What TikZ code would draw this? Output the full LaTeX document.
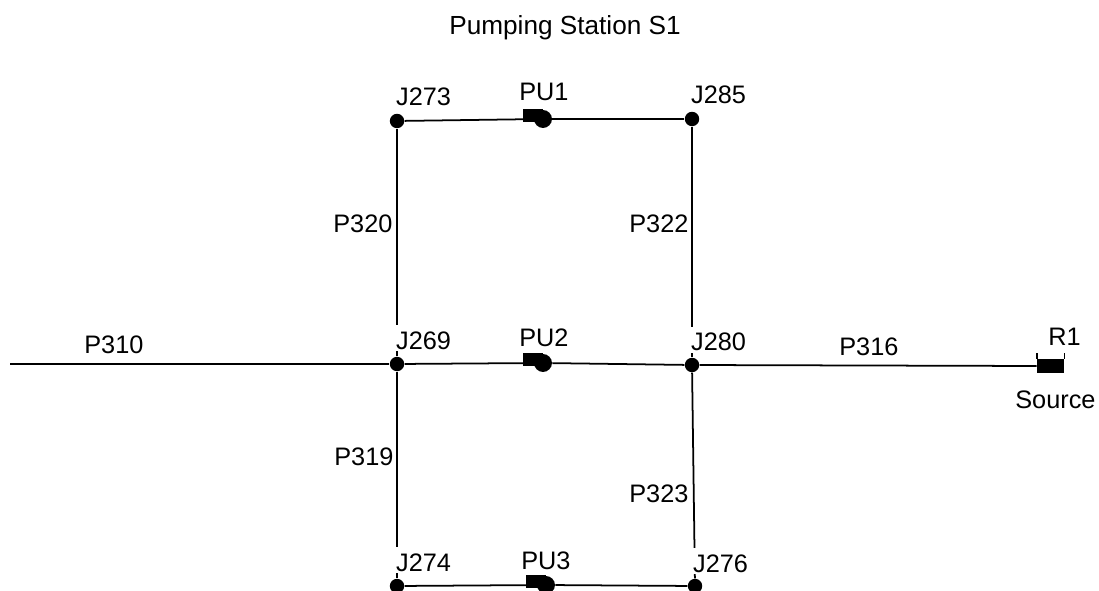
\documentclass[tikz,border=0pt]{standalone}
\usepackage{fontspec}
\setmainfont{Liberation Sans}
\tikzset{
  pipe/.style={line width=1pt},
  junc/.style={circle, fill=black, inner sep=0pt, minimum size=8.2pt},
  pumphead/.style={circle, fill=black, inner sep=0pt, minimum size=10.2pt},
  pumpbody/.style={fill=black, inner sep=0pt, minimum width=11.4pt, minimum height=7.4pt, anchor=east},
  tank/.style={fill=black, inner sep=0pt, minimum width=15.4pt, minimum height=8pt},
  lab/.style={font=\fontsize{14.4}{16}\selectfont, anchor=base west, inner sep=0pt},
  jlab/.style={lab, fill=white, inner sep=1pt, text height=12.5pt, text depth=0pt},
}
\begin{document}
\begin{tikzpicture}[x=0.02cm,y=-0.02cm]
\useasboundingbox (0,0) rectangle (1099,591);

% ===================== junctions and equipment ==============================
\node[junc] (J273) at (397,121) {};
\node[junc] (J285) at (692,119) {};
\node[junc] (J269) at (397,364) {};
\node[junc] (J280) at (692,365) {};
\node[junc] (J274) at (397,586) {};
\node[junc] (J276) at (695,586) {};
\node[pumphead] (PU1) at (543,119) {};
\node[pumphead] (PU2) at (543,363) {};
\node[pumphead] (PU3) at (546,585) {};
\node[pumpbody] at (543,115.5) {};
\node[pumpbody] at (543,359.5) {};
\node[pumpbody] at (546,581.5) {};
\node[tank] (R1) at (1050.5,366) {};
\coordinate (P310end) at (10,364);

% ===================== pipes ================================================
\draw[pipe] (P310end) -- (J269);
\draw[pipe] (J269) -- (PU2);
\draw[pipe] (PU2) -- (J280);
\draw[pipe] (J280) -- (R1.west);
\draw[pipe] (J269) -- (J273);
\draw[pipe] (J273) -- (PU1);
\draw[pipe] (PU1) -- (J285);
\draw[pipe] (J285) -- (J280);
\draw[pipe] (J269) -- (J274);
\draw[pipe] (J274) -- (PU3);
\draw[pipe] (PU3) -- (J276);
\draw[pipe] (J280) -- (J276);
\draw[pipe] (R1.north west) -- ++(0,-6);
\draw[pipe] (R1.north east) -- ++(0,-6);

% ===================== labels ===============================================
\node[lab, font=\fontsize{14.9}{16}\selectfont] (title) at (449,35) {Pumping Station S1};
\node[jlab] (lJ273) at (394,106) {J273};
\node[jlab] (lJ285) at (689,104) {J285};
\node[jlab] (lJ269) at (394,349) {J269};
\node[jlab] (lJ280) at (689,351) {J280};
\node[jlab] (lJ274) at (394,571) {J274};
\node[jlab] (lJ276) at (691,572) {J276};
\node[lab] (lPU1) at (519,101) {PU1};
\node[lab] (lPU2) at (519,346) {PU2};
\node[lab] (lPU3) at (521,569) {PU3};
\node[lab] (lP310) at (84,354) {P310};
\node[lab] (lP316) at (839,356) {P316};
\node[lab] (lP320) at (333,233) {P320};
\node[lab] (lP322) at (629,233) {P322};
\node[lab] (lP319) at (334,465) {P319};
\node[lab] (lP323) at (629,502) {P323};
\node[lab] (lR1) at (1048,345) {R1};
\node[lab] (lSource) at (1015,408) {Source};

\end{tikzpicture}
\end{document}
